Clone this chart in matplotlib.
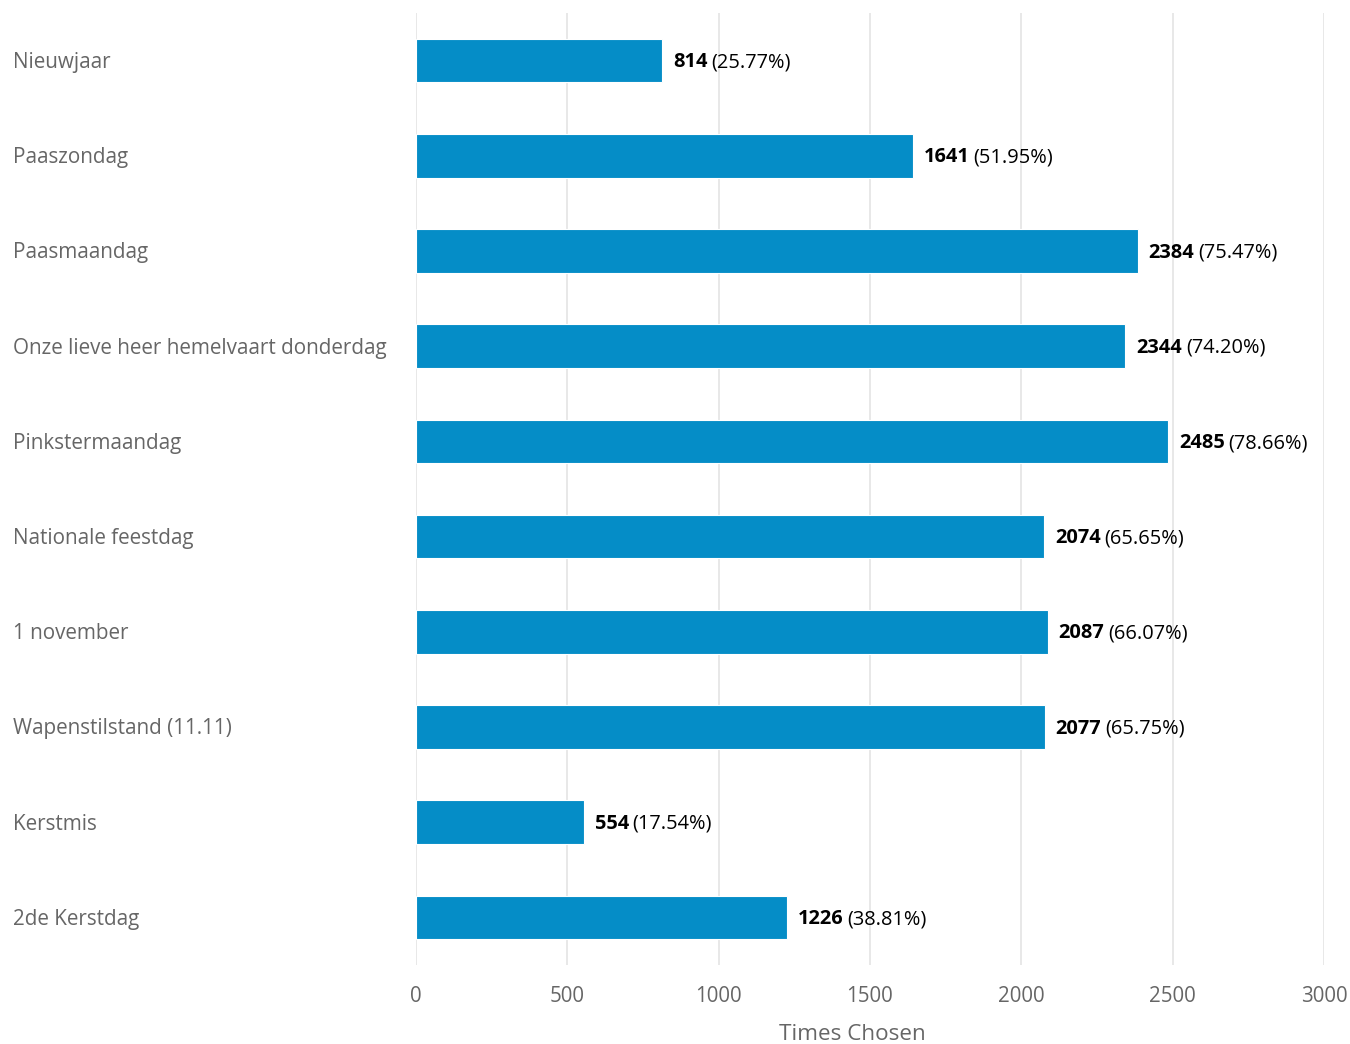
import matplotlib.pyplot as plt
from matplotlib.transforms import blended_transform_factory

plt.rcParams['font.family'] = ['Open Sans', 'DejaVu Sans']

holidays = ["Nieuwjaar", "Paaszondag", "Paasmaandag",
            "Onze lieve heer hemelvaart donderdag", "Pinkstermaandag",
            "Nationale feestdag", "1 november", "Wapenstilstand (11.11)",
            "Kerstmis", "2de Kerstdag"]
times_chosen = [814, 1641, 2384, 2344, 2485, 2074, 2087, 2077, 554, 1226]
percent = [25.77, 51.95, 75.47, 74.20, 78.66, 65.65, 66.07, 65.75, 17.54, 38.81]
xticks = [0, 500, 1000, 1500, 2000, 2500, 3000]

BAR = '#058DC7'
GRID = '#e6e6e6'
LABEL = '#666666'
FS = 14.9

fig = plt.figure(figsize=(13.5, 10.44), dpi=100)
W, H = 1350, 1044
ax = fig.add_axes([416 / W, 1 - 965 / H, (1324 - 416) / W, (965 - 13) / H])

ypos = list(range(len(holidays)))
ax.barh(ypos, times_chosen, height=0.46, color=BAR, edgecolor='white',
        linewidth=0.8, zorder=3)

ax.set_xlim(0, 3000)
ax.set_ylim(len(holidays) - 0.5, -0.5)
ax.set_xticks(xticks)
ax.set_xticklabels([str(t) for t in xticks], color=LABEL, fontsize=14.8)
ax.grid(axis='x', color=GRID, linewidth=1.3, zorder=0)
for s in ax.spines.values():
    s.set_visible(False)
ax.tick_params(axis='both', length=0)
ax.tick_params(axis='x', pad=15)
ax.set_yticks([])

# category labels, left aligned at the figure edge
trans = blended_transform_factory(fig.transFigure, ax.transData)
for y, name in zip(ypos, holidays):
    ax.text(13 / W, y + 0.02, name, transform=trans, ha='left', va='center',
            color=LABEL, fontsize=FS)

# value labels: bold count followed by percentage
for y, v, p in zip(ypos, times_chosen, percent):
    t1 = ax.annotate(str(v), xy=(v, y), xytext=(8, -1.2), textcoords='offset points',
                     ha='left', va='center', fontsize=14.4, fontweight='bold',
                     color='black')
    ax.annotate("({:.2f}%)".format(p), xy=(1, 0.5), xycoords=t1,
                xytext=(2.5, 0), textcoords='offset points',
                ha='left', va='center', fontsize=14.4, color='black')

ax.set_xlabel("Times Chosen", color=LABEL, fontsize=16.2)
ax.xaxis.set_label_coords(0.481, -0.062)

fig.savefig("out.png", dpi=100)
